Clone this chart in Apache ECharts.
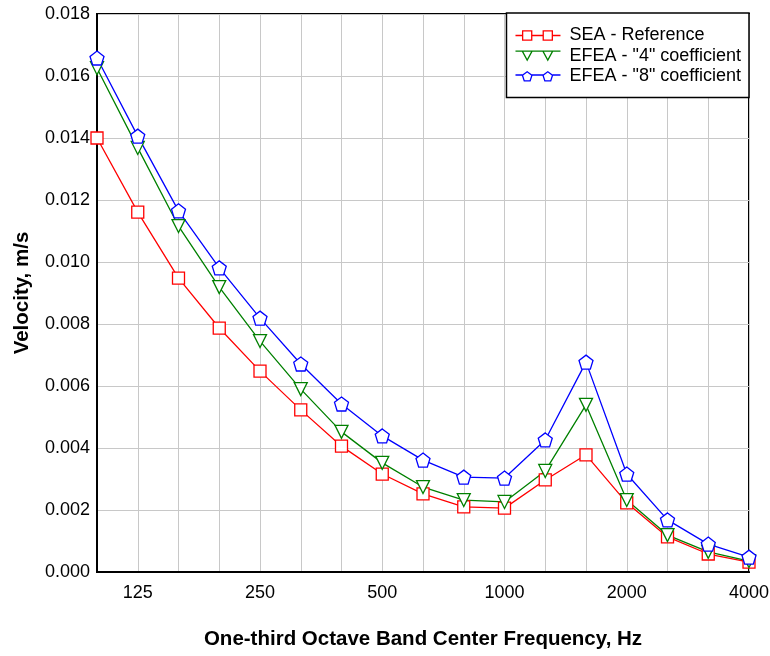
<!DOCTYPE html>
<html>
<head>
<meta charset="utf-8">
<script src="https://cdn.jsdelivr.net/npm/echarts@6/dist/echarts.min.js"></script>
<style>html,body{margin:0;padding:0;background:#fff;}#c{width:770px;height:656px;}</style>
</head>
<body>
<div id="c"></div>
<script>
const categories = ['100','125','160','200','250','315','400','500','630','800','1000','1250','1600','2000','2500','3150','4000'];
const seaReference = [0.0140,0.01161,0.00948,0.00787,0.00648,0.00523,0.00406,0.00316,0.00252,0.00210,0.00206,0.00297,0.00378,0.00223,0.00113,0.00058,0.00032];
const efea4 = [0.01625,0.01368,0.01116,0.00919,0.00745,0.00590,0.00452,0.00352,0.00274,0.00232,0.00226,0.00326,0.00539,0.00232,0.00119,0.00065,0.00035];
const efea8 = [0.01658,0.01406,0.01165,0.00981,0.00819,0.00671,0.00542,0.00439,0.00361,0.00306,0.00303,0.00426,0.00677,0.00316,0.00168,0.00090,0.00048];
const seriesNames = ['SEA - Reference','EFEA - "4" coefficient','EFEA - "8" coefficient'];
const seriesColors = ['#ff0000','#008000','#0000ff'];
const yTicks = {min:0, max:0.018, interval:0.002};

const pentagon = 'path://M0,-1 L0.951,-0.309 L0.588,0.809 L-0.588,0.809 L-0.951,-0.309 Z';
const font = 'Liberation Sans, Arial, sans-serif';

// ---- legend icon builder: line with two hollow markers ----
function poly(pts){ return 'M' + pts.map(p => p[0].toFixed(2)+','+p[1].toFixed(2)).join(' L') + ' Z '; }
function rectPts(x0,y0,x1,y1){ return [[x0,y0],[x1,y0],[x1,y1],[x0,y1]]; }
function legendIcon(kind){
  const W = 45, c1 = 11.7, c2 = 32.3, t = 1.3;
  let shape, ends, ly;
  if (kind === 'square'){
    const h = 5.2;
    shape = cx => poly(rectPts(cx-h,6-h,cx+h,6+h)) + poly(rectPts(cx-h+t,6-h+t,cx+h-t,6+h-t).reverse());
    ends = h - 0.6; ly = 6;
  } else if (kind === 'tri'){
    shape = cx => poly([[cx-6,0.5],[cx+6,0.5],[cx,11.5]]) + poly([[cx-3.81,1.8],[cx+3.81,1.8],[cx,8.78]].reverse());
    ends = 5.4; ly = 1.15;
  } else {
    const R = 5.8, cy = 0.5 + R;
    const pent = (cx,cy,r) => [-90,-18,54,126,198].map(a => [cx+r*Math.cos(a*Math.PI/180), cy+r*Math.sin(a*Math.PI/180)]);
    shape = cx => poly(pent(cx,cy,R)) + poly(pent(cx,cy,R-1.6).reverse());
    ends = 0.951*R - 0.5; ly = cy - 0.309*R;
  }
  const ly0 = ly - t/2, ly1 = ly + t/2;
  let s = '';
  s += poly(rectPts(0,ly0,c1-ends,ly1));
  s += poly(rectPts(c1+ends,ly0,c2-ends,ly1));
  s += poly(rectPts(c2+ends,ly0,W,ly1));
  s += shape(c1) + shape(c2);
  // tiny invisible-size anchors to fix the bounding box to 0..W x 0..12
  s += poly(rectPts(0,0,0.01,0.01)) + poly(rectPts(W-0.01,11.99,W,12));
  return 'path://' + s;
}
const legendKinds = ['square','tri','pent'];

const chart = echarts.init(document.getElementById('c'), null, {renderer:'canvas'});
function mk(name, data, color, symbol, size, rot){
  return {
    name, type:'line', data, symbol, symbolSize:size, symbolRotate:rot||0,
    showAllSymbol:true,
    lineStyle:{color, width:1.3},
    itemStyle:{color:'#fff', borderColor:color, borderWidth:1.3},
    emphasis:{disabled:true},
    animation:false
  };
}
chart.setOption({
  animation:false,
  backgroundColor:'#fff',
  grid:{left:97, top:14, right:21, bottom:84, show:true, borderColor:'#000', borderWidth:2, containLabel:false, outerBoundsMode:'none'},
  legend:{
    orient:'vertical', right:21, top:13,
    backgroundColor:'#fff', borderColor:'#000', borderWidth:1.5, borderRadius:0,
    padding:[13.5,8,12,9], itemGap:2.5, itemWidth:45, itemHeight:12, symbolKeepAspect:false,
    textStyle:{fontFamily:font, fontSize:18, color:'#000', padding:[0,0,0,4]},
    data:seriesNames.map((n,i) => ({name:n, icon:legendIcon(legendKinds[i]), itemStyle:{color:seriesColors[i], borderWidth:0}}))
  },
  xAxis:{
    type:'category', data:categories, boundaryGap:false,
    name:'One-third Octave Band Center Frequency, Hz', nameLocation:'middle', nameGap:57,
    nameTextStyle:{fontFamily:font, fontSize:20.5, fontWeight:'bold', color:'#000'},
    axisLine:{show:true, lineStyle:{color:'#000', width:2}},
    axisTick:{show:false},
    axisLabel:{interval:function(i){return (i-1)%3===0;}, margin:12, fontFamily:font, fontSize:18, color:'#000'},
    splitLine:{show:true, interval:0, lineStyle:{color:'#c8c8c8', width:1}}
  },
  yAxis:{
    type:'value', min:yTicks.min, max:yTicks.max, interval:yTicks.interval,
    name:'Velocity, m/s', nameLocation:'middle', nameGap:64, nameRotate:90,
    nameTextStyle:{fontFamily:font, fontSize:20.5, fontWeight:'bold', color:'#000'},
    axisLine:{show:true, lineStyle:{color:'#000', width:2}},
    axisTick:{show:false},
    axisLabel:{margin:7, fontFamily:font, fontSize:18, color:'#000', formatter:function(v){return v.toFixed(3);}},
    splitLine:{show:true, lineStyle:{color:'#c8c8c8', width:1}}
  },
  series:[
    mk(seriesNames[0], seaReference, seriesColors[0], 'rect', 12),
    mk(seriesNames[1], efea4, seriesColors[1], 'triangle', 13, 180),
    mk(seriesNames[2], efea8, seriesColors[2], pentagon, 14)
  ]
});
</script>
</body>
</html>
